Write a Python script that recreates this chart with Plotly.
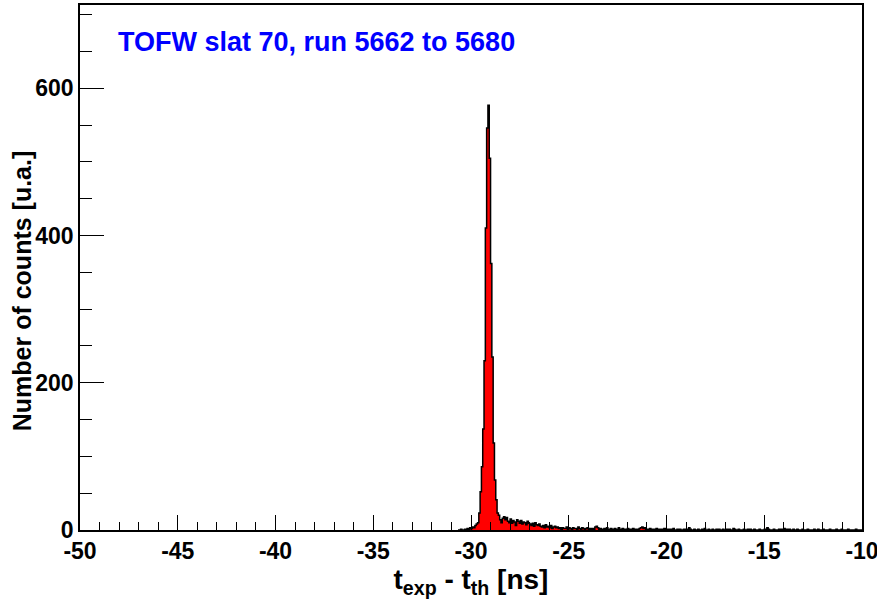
import plotly.graph_objects as go

# Histogram definition (bins of 1/15 ns from -50 to -10); counts listed from bin 290 on
x_min, x_max = -50.0, -10.0
n_bins = 600
first_bin = 290
counts = [
    0, 0, 1, 0, 0, 1, 0, 2, 1, 3,          # 290-299
    2, 4, 3, 6, 8, 10,                      # 300-305
    23, 52, 86, 137, 230, 410, 546, 577,    # 306-313
    505, 362, 235, 118, 68, 41, 23,         # 314-320
    20, 14, 10, 16, 18, 14, 17, 12, 10, 15, 9, 13,   # 321-332
    11, 6, 14, 12, 9, 13, 8, 11, 10, 7,     # 333-342
    12, 9, 8, 6, 9, 5, 10, 7,               # 343-350
    6, 8, 5, 4, 6, 3, 7, 4, 5, 3, 6, 2, 4, 5, 3,     # 351-365
    4, 2, 3, 1, 3, 2, 2, 4, 1, 3, 2, 1, 3, 2, 2, 1, 4, 2, 1, 3, 2, 1, 2, 3, 1, 2,  # 366-391
    1, 2, 0, 4, 5, 3, 1, 2, 1, 0,           # 392-401
    2, 1, 3, 1, 0, 2, 1, 1, 2, 0,           # 402-411
    1, 3, 1, 0, 2, 1, 0, 1, 2, 1,           # 412-421
    0, 1, 2, 1, 0, 1, 1, 2, 3, 4,           # 422-431
    2, 3, 1, 0, 1, 2, 0, 1, 1, 0,           # 432-441
    2, 1, 0, 1, 0, 1, 2, 0, 1, 0,           # 442-451
    1, 0, 1, 2, 0, 0, 1, 0, 1, 0, 0, 1,     # 452-463
    0, 1, 0, 3, 1, 0, 0, 1, 0, 0,           # 464-473
    1, 0, 0, 1, 0, 2, 0, 0, 1, 0,           # 474-483
    0, 1, 0, 0, 1, 0, 1, 0, 0, 1,           # 484-493
    0, 0, 1, 0, 1, 0, 0, 2, 1, 0,           # 494-503
    0, 1, 0, 0, 0, 1, 0, 0, 1, 0,           # 504-513
    1, 0, 0, 1, 0, 0, 0, 1, 0, 0,           # 514-523
    0, 1, 0, 3, 1, 0, 0, 0, 1, 0,           # 524-533
    0, 0, 1, 0, 1, 0, 2, 1, 0, 1,           # 534-543
    1, 0, 0, 1, 0, 0, 1, 0, 0, 0,           # 544-553
    1, 0, 0, 0, 1, 0, 0, 0, 0, 1,           # 554-563
    0, 0, 1, 0, 0, 0, 1, 0, 0, 0,           # 564-573
    0, 1, 0, 0, 0, 0, 1, 0, 0, 0,           # 574-583
    1, 0, 0, 0, 0, 1, 0, 0, 0, 0,           # 584-593
    0, 1, 0, 0, 0, 0,                       # 594-599
]

title_text = "TOFW slat 70, run 5662 to 5680"
x_title = "t<sub>exp</sub> - t<sub>th</sub> [ns]"
y_title = "Number of counts [u.a.]"
x_ticks = [-50, -45, -40, -35, -30, -25, -20, -15, -10]
y_ticks = [0, 200, 400, 600]
y_max = 713

bw = (x_max - x_min) / n_bins
edges = [x_min + (first_bin + i) * bw for i in range(len(counts) + 1)]
ys = counts + [counts[-1]]

FONT = "Liberation Sans, Arial, Helvetica, sans-serif"

fig = go.Figure()
fig.add_trace(go.Scatter(
    x=edges, y=ys, mode="lines", line=dict(shape="hv", color="black", width=1.5),
    fill="tozeroy", fillcolor="#ff0000", hoverinfo="skip", showlegend=False,
))

fig.update_layout(
    width=877, height=601,
    margin=dict(l=80, r=15, t=5, b=71),
    paper_bgcolor="white", plot_bgcolor="white",
    font=dict(family=FONT, color="black"),
    showlegend=False,
    annotations=[
        dict(
            text="<b>" + title_text + "</b>", xref="paper", yref="paper",
            x=0.046, y=0.929, xanchor="left", yanchor="middle", showarrow=False,
            font=dict(family=FONT, size=27, color="#0000ff"),
        ),
        dict(
            text="<b>" + y_title + "</b>", xref="paper", yref="paper",
            x=-0.074, y=0.455, xanchor="center", yanchor="middle", showarrow=False,
            textangle=-90, font=dict(family=FONT, size=25, color="black"),
        ),
    ],
)
fig.update_xaxes(
    range=[x_min, x_max], tickvals=x_ticks, ticktext=[str(v) for v in x_ticks],
    ticks="inside", ticklen=15, tickwidth=1, tickcolor="black",
    minor=dict(dtick=1, ticks="inside", ticklen=8, tickcolor="black", tickwidth=1),
    showline=True, linecolor="black", linewidth=1.5, mirror=True,
    showgrid=False, zeroline=False, automargin=False, ticklabeloverflow="allow",
    tickfont=dict(family=FONT, size=23, weight="bold"),
    title=dict(text="<b>" + x_title + "</b>", font=dict(family=FONT, size=28), standoff=4),
)
fig.update_yaxes(
    range=[0, y_max], tickvals=y_ticks, ticktext=[str(v) for v in y_ticks],
    ticks="inside", ticklen=24, tickwidth=1, tickcolor="black",
    minor=dict(dtick=50, ticks="inside", ticklen=12, tickcolor="black", tickwidth=1),
    showline=True, linecolor="black", linewidth=1.5, mirror=True,
    showgrid=False, zeroline=False, automargin=False, ticklabeloverflow="allow",
    tickfont=dict(family=FONT, size=23, weight="bold"),
)

fig.write_html(
    "out.html",
    config={"displayModeBar": False},
    post_script="document.body.style.margin='0';document.body.style.padding='0';"
                "document.documentElement.style.overflow='hidden';",
)
